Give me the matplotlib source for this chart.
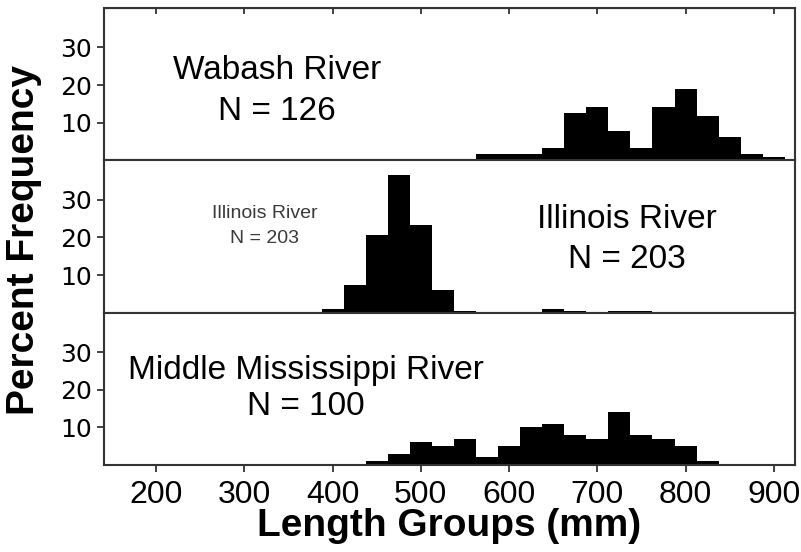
#%% Import libraries
import matplotlib.pyplot as plt
import numpy as np

# Length-frequency data (percent of fish per 25 mm group)
# bin centres in mm
wabash_len = [575, 600, 625, 650, 675, 700, 725, 750, 775, 800, 825, 850, 875, 900]
wabash_pct = [1.6, 1.6, 1.6, 3.2, 12.7, 14.3, 7.9, 3.2, 14.3, 19.0, 11.9, 6.3, 1.6, 1.0]

illinois_len = [400, 425, 450, 475, 500, 525, 550, 650, 675, 725, 750]
illinois_pct = [1.0, 7.4, 20.7, 36.5, 23.2, 5.9, 0.5, 1.0, 0.5, 0.5, 0.5]

mms_len = [450, 475, 500, 525, 550, 575, 600, 625, 650, 675, 700, 725, 750, 775, 800, 825]
mms_pct = [1, 3, 6, 5, 7, 2, 5, 10, 11, 8, 7, 14, 8, 7, 5, 1]

bin_width = 25
x_ticks = [200, 300, 400, 500, 600, 700, 800, 900]
y_ticks = [10, 20, 30]

plt.rcParams['font.family'] = ['Liberation Sans', 'DejaVu Sans']

fig, axs = plt.subplots(3, 1, sharex=True, figsize=(8.01, 5.52), dpi=100)
fig.subplots_adjust(left=104/801, right=795/801, top=1-8/552, bottom=1-465/552, hspace=0)

panels = [(wabash_len, wabash_pct), (illinois_len, illinois_pct), (mms_len, mms_pct)]

for ax, (lens, pct) in zip(axs, panels):
    ax.bar(lens, pct, width=bin_width, color='black', linewidth=0)
    ax.set_ylim(0, 40.5)
    ax.set_xlim(141, 924)
    ax.set_yticks(y_ticks)
    ax.set_xticks(x_ticks)
    for s in ax.spines.values():
        s.set_linewidth(1.5)
        s.set_color('#333333')
    ax.tick_params(axis='y', direction='out', length=5, width=1.3, color='#333333',
                   labelsize=18, pad=4)
    ax.tick_params(axis='x', direction='out', length=5, width=1.3, color='#333333',
                   labelsize=23, pad=6)
    for lab in ax.get_yticklabels():
        lab.set_family('DejaVu Sans')

# inward ticks along the very top
sec = axs[0].secondary_xaxis('top')
sec.set_xticks(x_ticks)
sec.tick_params(direction='in', length=4, width=1.3, color='#333333', labeltop=False)

# Panel labels
axs[0].text(337, 21.5, 'Wabash River', fontsize=24, ha='center', va='baseline')
axs[0].text(337, 10.8, 'N = 126', fontsize=24, ha='center', va='baseline')

axs[1].text(733, 22.4, 'Illinois River', fontsize=24, ha='center', va='baseline')
axs[1].text(733, 11.9, 'N = 203', fontsize=24, ha='center', va='baseline')
axs[1].text(323, 25.1, 'Illinois River', fontsize=14, ha='center', va='baseline', color='#3a3a3a')
axs[1].text(323, 18.6, 'N = 203', fontsize=14, ha='center', va='baseline', color='#3a3a3a')

axs[2].text(370, 22.8, 'Middle Mississippi River', fontsize=24, ha='center', va='baseline')
axs[2].text(370, 13.4, 'N = 100', fontsize=24, ha='center', va='baseline')

# Axis titles
axs[2].set_xlabel('Length Groups (mm)', fontsize=28, fontweight='bold', labelpad=-2)
fig.text(24/801, 1-240/552, 'Percent Frequency', fontsize=28, fontweight='bold',
         rotation=90, ha='center', va='center')

plt.savefig('out.png', dpi=100)
